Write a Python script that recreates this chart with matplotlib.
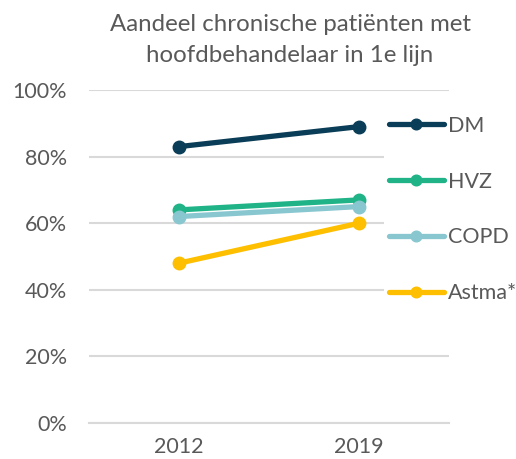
import matplotlib.pyplot as plt
from matplotlib.ticker import PercentFormatter

plt.rcParams['font.family'] = ['Lato', 'DejaVu Sans']

jaren = ['2012', '2019']
series = ['DM', 'HVZ', 'COPD', 'Astma*']
dm = [83, 89]
hvz = [64, 67]
copd = [62, 65]
astma = [48, 60]
kleuren = ['#0a3d57', '#1fb387', '#89c7d0', '#fdbf00']

GRIJS = '#595959'

fig = plt.figure(figsize=(5.16, 4.59), dpi=100)
ax = fig.add_axes([89 / 516, 1 - 423 / 459, 360 / 516, 333 / 459])

x = range(len(jaren))
for naam, waarden, kleur in zip(series, [dm, hvz, copd, astma], kleuren):
    ax.plot(x, waarden, color=kleur, lw=3.8, marker='o', ms=9,
            solid_capstyle='round', label=naam, zorder=3)

ax.set_xlim(-0.5, 1.5)
ax.set_ylim(0, 100)
ax.set_yticks(range(0, 101, 20))
ax.yaxis.set_major_formatter(PercentFormatter(decimals=0))
ax.set_xticks(list(x))
ax.set_xticklabels(jaren)
ax.grid(axis='y', color='#d9d9d9', lw=1.5)
ax.set_axisbelow(True)
for s in ['top', 'right', 'left']:
    ax.spines[s].set_visible(False)
ax.spines['bottom'].set_color('#d9d9d9')
ax.spines['bottom'].set_linewidth(1.5)
ax.tick_params(length=0, labelsize=15.5, colors=GRIJS)
ax.tick_params(axis='y', pad=16)
ax.tick_params(axis='x', pad=10)

leg = ax.legend(loc='upper left', bbox_to_anchor=(0.82, 0.935), frameon=True,
                fontsize=15.5, handlelength=2.6, handletextpad=0.15,
                labelspacing=1.66, borderpad=0.2, borderaxespad=0,
                markerscale=0.85)
leg.get_frame().set_facecolor('white')
leg.get_frame().set_edgecolor('none')
leg.get_frame().set_alpha(1)
for t in leg.get_texts():
    t.set_color(GRIJS)

fig.text(290 / 516, 1 - 40 / 459,
         'Aandeel chronische patiënten met\nhoofdbehandelaar in 1e lijn',
         ha='center', va='center', fontsize=17.3, color=GRIJS, linespacing=1.55)

fig.savefig('out.png', dpi=100)
